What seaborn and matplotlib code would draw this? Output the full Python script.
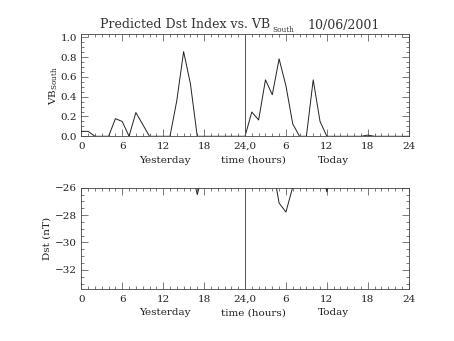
import matplotlib
matplotlib.use("Agg")
import matplotlib.pyplot as plt
from matplotlib.ticker import MultipleLocator
import seaborn as sns
import pandas as pd

# ---------------- data ----------------
hours = list(range(0, 49))
vb_south = [0.05, 0.05, 0.0, 0.0, 0.0, 0.178, 0.15, 0.0, 0.24, 0.12,
            0.0, 0.0, 0.0, 0.0, 0.36, 0.855, 0.53, 0.0, 0.0, 0.0,
            0.0, 0.0, 0.0, 0.0, 0.0, 0.245, 0.165, 0.57, 0.42, 0.782,
            0.51, 0.125, 0.0, 0.0, 0.57, 0.15, 0.0, 0.0, 0.0, 0.0,
            0.0, 0.0, 0.012, 0.0, 0.0, 0.0, 0.0, 0.0, 0.0]
dst = [-24.0, -24.0, -24.0, -24.0, -24.0, -24.0, -24.0, -24.0, -24.0, -24.0,
       -24.0, -24.0, -24.0, -24.0, -24.0, -24.2, -24.4, -26.5, -24.6, -24.5,
       -24.5, -24.5, -24.5, -24.5, -24.5, -24.5, -24.5, -24.5, -24.3, -27.12,
       -27.78, -25.95, -24.5, -24.5, -24.5, -24.2, -26.3, -24.2, -24.2, -24.2,
       -24.2, -24.2, -24.2, -24.2, -24.2, -24.2, -24.2, -24.2, -24.2]
day_divider = 24
x_ticks = [0, 6, 12, 18, 24, 30, 36, 42, 48]
x_tick_labels = ["0", "6", "12", "18", "24,0", "6", "12", "18", "24"]
vb_ticks = [0.0, 0.2, 0.4, 0.6, 0.8, 1.0]
vb_tick_labels = ["0.0", "0.2", "0.4", "0.6", "0.8", "1.0"]
dst_ticks = [-32, -30, -28, -26]
dst_tick_labels = ["\u221232", "\u221230", "\u221228", "\u221226"]
title_main = "Predicted Dst Index vs. VB"
title_sub = "South"
title_date = "10/06/2001"
under_labels = ["Yesterday", "time (hours)", "Today"]
under_pos = [12.3, 25.3, 37.0]

df = pd.DataFrame({"hour": hours, "vb": vb_south, "dst": dst})

# ---------------- style ----------------
sns.set_style("ticks")
plt.rcParams["font.family"] = ["DejaVu Serif"]
plt.rcParams["mathtext.fontset"] = "dejavuserif"
plt.rcParams["axes.linewidth"] = 0.6
plt.rcParams["axes.edgecolor"] = "#444444"

W, H = 454, 341
fig = plt.figure(figsize=(W / 100, H / 100), dpi=100)
fig.patch.set_facecolor("white")

def px_axes(x0, y0, x1, y1):
    return fig.add_axes([x0 / W, 1 - y1 / H, (x1 - x0) / W, (y1 - y0) / H])

ax1 = px_axes(81.3, 34.3, 408.7, 136.3)
ax2 = px_axes(81.3, 187.7, 408.7, 289.0)

line_kw = dict(color="#222222", linewidth=0.7)
sns.lineplot(data=df, x="hour", y="vb", ax=ax1, **line_kw)
sns.lineplot(data=df, x="hour", y="dst", ax=ax2, **line_kw)

for ax in (ax1, ax2):
    ax.axvline(day_divider, color="#555555", linewidth=0.7)
    ax.set_xlim(0, 48)
    ax.set_xticks(x_ticks)
    ax.set_xticklabels(x_tick_labels)
    ax.xaxis.set_minor_locator(MultipleLocator(1))
    ax.tick_params(which="both", direction="in", top=True, right=True,
                   colors="#444444", labelcolor="#222222", width=0.5,
                   labelsize=7.5, pad=3)
    ax.tick_params(which="major", length=5)
    ax.tick_params(which="minor", length=2.5)
    ax.tick_params(axis="x", pad=4)
    ax.set_xlabel("")
    for lab, pos in zip(under_labels, under_pos):
        ax.text(pos, -0.19, lab, transform=ax.get_xaxis_transform(),
                ha="center", va="top", fontsize=7.5, color="#222222")

ax1.set_ylim(0, 1.03)
ax1.set_yticks(vb_ticks)
ax1.set_yticklabels(vb_tick_labels)
ax1.yaxis.set_minor_locator(MultipleLocator(0.05))
ax1.set_ylabel("VB$_{\\mathrm{South}}$", fontsize=7.5, color="#222222")
ax1.yaxis.set_label_coords(-0.066, 0.5)

ax2.set_ylim(-33.4, -26)
ax2.set_yticks(dst_ticks)
ax2.set_yticklabels(dst_tick_labels)
ax2.yaxis.set_minor_locator(MultipleLocator(0.5))
ax2.set_ylabel("Dst (nT)", fontsize=7.5, color="#222222")
ax2.yaxis.set_label_coords(-0.09, 0.5)

fig.text(100 / W, 1 - 28.5 / H, title_main, ha="left", va="baseline",
         fontsize=9, color="#333333")
fig.text(272.7 / W, 1 - 31.8 / H, title_sub, ha="left", va="baseline",
         fontsize=5.3, color="#333333")
fig.text(307 / W, 1 - 28.5 / H, title_date, ha="left", va="baseline",
         fontsize=9, color="#333333")

fig.savefig("out.png", dpi=100, facecolor="white")
